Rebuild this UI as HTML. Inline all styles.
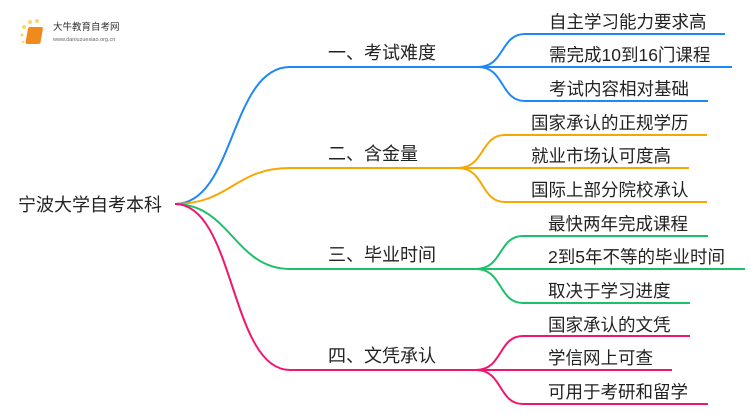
<!DOCTYPE html>
<html><head><meta charset="utf-8"><style>
body{margin:0;width:750px;height:410px;background:#fff;overflow:hidden;font-family:"Liberation Sans","Noto Sans CJK SC",sans-serif}
svg text{font-family:"Liberation Sans","Noto Sans CJK SC",sans-serif;fill:#222}
</style></head><body>
<svg width="750" height="410" viewBox="0 0 750 410" xmlns="http://www.w3.org/2000/svg">
<g fill="none" stroke-width="2">
<g stroke="#1e88f5">
<path d="M175,204 C235,204 230,67 290,67 L480,67"/>
<path d="M478,67 C505,67 500,34 525,34 L725,34"/>
<path d="M478,67 L732,67"/>
<path d="M478,67 C505,67 500,101 525,101 L708,101"/>
</g>
<g stroke="#f5a800">
<path d="M175,204 C230,204 235,168 290,168 L460,168"/>
<path d="M458,168 C485,168 480,135 505,135 L707,135"/>
<path d="M458,168 L689,168"/>
<path d="M458,168 C485,168 480,202 505,202 L707,202"/>
</g>
<g stroke="#1dbf6a">
<path d="M175,204 C230,204 235,269 290,269 L478,269"/>
<path d="M476,269 C503,269 498,236 523,236 L708,236"/>
<path d="M476,269 L745,269"/>
<path d="M476,269 C503,269 498,303 523,303 L690,303"/>
</g>
<g stroke="#f0166e">
<path d="M175,204 C235,204 230,370 290,370 L478,370"/>
<path d="M476,370 C503,370 498,336 523,336 L690,336"/>
<path d="M476,370 L672,370"/>
<path d="M476,370 C503,370 498,404 523,404 L708,404"/>
</g>
</g>
<g>
<circle cx="22" cy="35" r="1.5" fill="#fcd56a"/><circle cx="24" cy="27" r="2" fill="#fcd56a"/><circle cx="30" cy="22" r="2" fill="#fcd56a"/><circle cx="37" cy="21" r="2" fill="#fcd56a"/><circle cx="23" cy="42" r="1.2" fill="#fcd56a"/>
<rect x="33" y="27" width="15" height="17" rx="2" fill="#f08a1c" transform="skewX(-10)"/>
<text x="53" y="30" font-size="9.5" style="fill:#333">大牛教育自考网</text>
<text x="53" y="41" font-size="5.5" style="fill:#666">www.daniuzuexiao.org.cn</text>
</g>
<text x="18" y="211" font-size="18">宁波大学自考本科</text>
<g font-size="18">
<text x="328" y="59">一、考试难度</text>
<text x="328" y="160">二、含金量</text>
<text x="328" y="261">三、毕业时间</text>
<text x="328" y="362">四、文凭承认</text>
</g>
<g font-size="17.5">
<text x="549" y="28">自主学习能力要求高</text>
<text x="549" y="61">需完成10到16门课程</text>
<text x="549" y="95">考试内容相对基础</text>
<text x="531" y="129">国家承认的正规学历</text>
<text x="531" y="162">就业市场认可度高</text>
<text x="531" y="196">国际上部分院校承认</text>
<text x="548" y="230">最快两年完成课程</text>
<text x="548" y="263">2到5年不等的毕业时间</text>
<text x="548" y="297">取决于学习进度</text>
<text x="548" y="331">国家承认的文凭</text>
<text x="548" y="364">学信网上可查</text>
<text x="548" y="398">可用于考研和留学</text>
</g>
</svg>
</body></html>
